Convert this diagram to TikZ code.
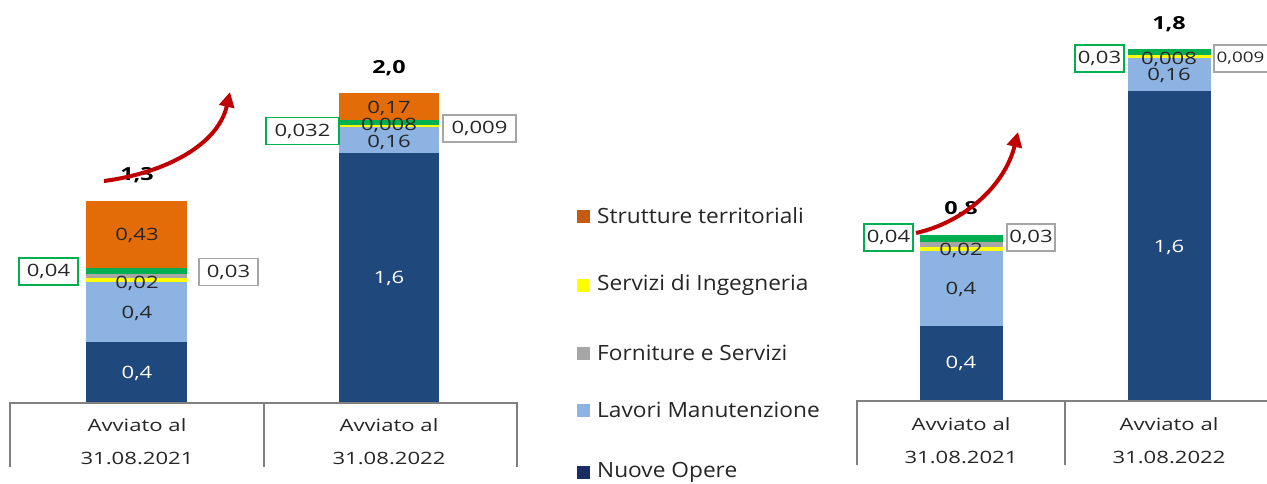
\documentclass[tikz,border=0pt]{standalone}
\usepackage{fontspec}
\setmainfont{Open Sans}[FakeStretch=1.3]
\newfontfamily\legfont{Open Sans}[FakeStretch=1.08]
\usetikzlibrary{arrows.meta}
\definecolor{dblue}{RGB}{31,73,125}
\definecolor{lblue}{RGB}{141,179,226}
\definecolor{orng}{RGB}{227,108,9}
\definecolor{grn}{RGB}{0,176,80}
\definecolor{gry}{RGB}{166,166,166}
\definecolor{ylw}{RGB}{255,255,0}
\definecolor{arrred}{RGB}{192,0,0}
\definecolor{txt}{RGB}{38,38,38}
\definecolor{tline}{RGB}{128,128,128}
\definecolor{legnavy}{RGB}{23,45,100}
\definecolor{legorng}{RGB}{197,90,17}
\begin{document}
\begin{tikzpicture}[x=1pt,y=-1pt,
  val/.style={font=\fontsize{17}{19}\selectfont, text=txt, inner sep=0pt},
  wval/.style={val, text=white},
  tot/.style={font=\bfseries\fontsize{18}{20}\selectfont, text=black, inner sep=0pt},
  gbox/.style={val, draw=grn, line width=1.3pt, fill=white, minimum height=27pt},
  sbox/.style={val, draw=gry, line width=1.3pt, fill=white, minimum height=27pt},
  tlab/.style={val, text=txt},
  tbl/.style={draw=tline, line width=1.2pt},
  trend/.style={draw=arrred, line width=4pt, -{Triangle[length=15pt,width=15pt]}},
  legsq/.style={minimum size=13pt, inner sep=0pt},
  legtxt/.style={font=\legfont\fontsize{21}{24}\selectfont, text=txt, inner sep=0pt, anchor=west}
]
\useasboundingbox (0,0) rectangle (1267,484);
\clip (0,0) rectangle (1267,484);

% ---------------- Left chart, bar 1 ----------------
\fill[orng]  (86,201) rectangle (187,268);
\fill[grn]   (86,268) rectangle (187,274);
\fill[gry]   (86,274) rectangle (187,278);
\fill[ylw]   (86,278) rectangle (187,282);
\fill[lblue] (86,282) rectangle (187,342);
\fill[dblue] (86,342) rectangle (187,403);
\node[tot]  (a1tot) at (137,175) {1,3};
\node[val]  (a1st)  at (137,235) {0,43};
\node[val]  (a1fs)  at (137,283) {0,02};
\node[val]  (a1lm)  at (137,313) {0,4};
\node[wval] (a1no)  at (137,373) {0,4};
\node[gbox, minimum width=59pt] (a1g) at (48.5,271.5) {0,04};
\node[sbox, minimum width=59pt] (a1s) at (228.5,272) {0,03};

% ---------------- Left chart, bar 2 ----------------
\fill[orng]  (339,93)  rectangle (439,120);
\fill[grn]   (339,120) rectangle (439,125);
\fill[ylw]   (339,125) rectangle (439,127);
\fill[lblue] (339,127) rectangle (439,153);
\fill[dblue] (339,153) rectangle (439,403);
\node[tot]  (a2tot) at (389,68)  {2,0};
\node[val]  (a2st)  at (389,108) {0,17};
\node[val]  (a2fs)  at (389,125) {0,008};
\node[val]  (a2lm)  at (389,142) {0,16};
\node[wval] (a2no)  at (389,278) {1,6};
\node[gbox, minimum width=73pt] (a2g) at (302.5,131) {0,032};
\node[sbox, minimum width=73pt] (a2s) at (479.5,128.5) {0,009};

% arrow left
\coordinate (la0) at (104,181);
\coordinate (la1) at (230,92);
\draw[trend] (la0) .. controls (165,173) and (218,145) .. (la1);

% table left
\draw[tbl] (10,467) -- (10,403) -- (517,403) -- (517,467);
\draw[tbl] (264,403) -- (264,467);
\node[tlab] (at1a) at (137,425) {Avviato al};
\node[tlab] (at1b) at (137,458) {31.08.2021};
\node[tlab] (at2a) at (389,425) {Avviato al};
\node[tlab] (at2b) at (389,458) {31.08.2022};

% ---------------- Legend ----------------
\node[legsq, fill=legorng] (lq1) at (583,216) {};
\node[legtxt] (lt1) at (597,216) {Strutture territoriali};
\node[legsq, fill=ylw] (lq2) at (583,285) {};
\node[legtxt] (lt2) at (597,285) {Servizi di Ingegneria};
\node[legsq, fill=gry] (lq3) at (583,353) {};
\node[legtxt] (lt3) at (597,353) {Forniture e Servizi};
\node[legsq, fill=lblue] (lq4) at (583,410) {};
\node[legtxt] (lt4) at (597,410) {Lavori Manutenzione};
\node[legsq, fill=legnavy] (lq5) at (583,472) {};
\node[legtxt] (lt5) at (597,472) {Nuove Opere};

% ---------------- Right chart, bar 1 ----------------
\fill[grn]   (920,235) rectangle (1003,242);
\fill[gry]   (920,242) rectangle (1003,247);
\fill[ylw]   (920,247) rectangle (1003,251);
\fill[lblue] (920,251) rectangle (1003,326);
\fill[dblue] (920,326) rectangle (1003,401);
\node[tot]  (b1tot) at (961,209) {0,8};
\node[val]  (b1fs)  at (961,250) {0,02};
\node[val]  (b1lm)  at (961,289) {0,4};
\node[wval] (b1no)  at (961,363) {0,4};
\node[gbox, minimum width=49pt] (b1g) at (888.5,237.5) {0,04};
\node[sbox, minimum width=48pt] (b1s) at (1031,237.5) {0,03};

% ---------------- Right chart, bar 2 ----------------
\fill[grn]   (1128,49) rectangle (1211,55);
\fill[ylw]   (1128,55) rectangle (1211,58);
\fill[lblue] (1128,58) rectangle (1211,91);
\fill[dblue] (1128,91) rectangle (1211,401);
\node[tot]  (b2tot) at (1169,24) {1,8};
\node[val]  (b2fs)  at (1169,59) {0,008};
\node[val]  (b2lm)  at (1169,75) {0,16};
\node[wval] (b2no)  at (1169,247) {1,6};
\node[gbox, minimum width=49pt] (b2g) at (1099.5,58.5) {0,03};
\draw[draw=gry, line width=1.3pt, fill=white] (1214,45) rectangle (1290,72);
\node[val, font=\fontsize{14.5}{17}\selectfont, anchor=west] (b2s) at (1216.5,58.5) {0,009};

% arrow right
\coordinate (ra0) at (916,233);
\coordinate (ra1) at (1018,132);
\draw[trend] (ra0) .. controls (965,222) and (1005,185) .. (ra1);

% table right
\draw[tbl] (857,465) -- (857,401) -- (1270,401);
\draw[tbl] (1065,401) -- (1065,465);
\node[tlab] (bt1a) at (961,424) {Avviato al};
\node[tlab] (bt1b) at (961,457) {31.08.2021};
\node[tlab] (bt2a) at (1169,424) {Avviato al};
\node[tlab] (bt2b) at (1169,457) {31.08.2022};
\end{tikzpicture}
\end{document}
